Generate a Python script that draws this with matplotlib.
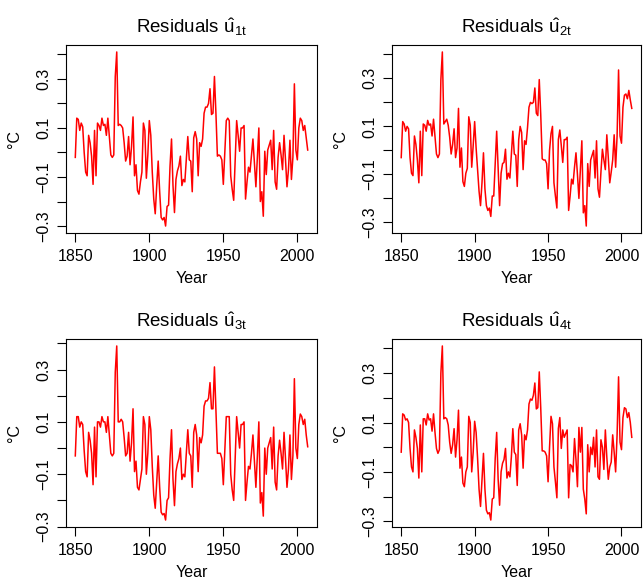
import numpy as np
import matplotlib
matplotlib.use("Agg")
import matplotlib.pyplot as plt

plt.rcParams["font.family"] = ["Liberation Sans", "DejaVu Sans"]
plt.rcParams["mathtext.fontset"] = "custom"
plt.rcParams["mathtext.rm"] = "Liberation Sans"
plt.rcParams["mathtext.it"] = "Liberation Sans"
plt.rcParams["axes.unicode_minus"] = True

years = np.arange(1850, 2008)

# residual series, one value per year 1850..2007
u1 = [-0.02, 0.14, 0.135, 0.09, 0.12, 0.105, 0.00, -0.08, -0.095, 0.07,
      0.04, -0.015, -0.13, 0.09, -0.095, 0.12, 0.11, 0.09, 0.14, 0.11,
      0.115, 0.07, 0.14, 0.065, -0.01, -0.02, -0.01, 0.31, 0.41, 0.11,
      0.115, 0.11, 0.10, 0.04, -0.035, -0.015, 0.065, -0.05, 0.025, 0.145,
      -0.095, -0.05, -0.155, -0.17, -0.12, -0.08, 0.12, 0.09, -0.105, -0.01,
      0.13, 0.07, -0.08, -0.19, -0.25, -0.135, -0.035, -0.16, -0.265, -0.275,
      -0.265, -0.30, -0.22, -0.215, -0.055, 0.055, -0.135, -0.245, -0.11, -0.075,
      -0.055, -0.015, -0.135, -0.11, -0.12, -0.03, 0.065, -0.03, -0.035, -0.16,
      0.06, 0.085, 0.055, -0.095, 0.04, 0.025, 0.055, 0.16, 0.185, 0.185,
      0.20, 0.26, 0.155, 0.16, 0.31, 0.16, -0.015, -0.01, -0.015, -0.03,
      -0.13, 0.00, 0.13, 0.14, 0.13, -0.095, -0.15, -0.195, -0.03, 0.13,
      0.07, 0.005, 0.10, 0.10, 0.11, -0.19, -0.12, -0.06, -0.08, -0.01,
      0.055, -0.04, -0.14, -0.02, 0.10, -0.20, -0.16, -0.26, 0.005, -0.09,
      0.01, 0.03, 0.05, -0.07, 0.09, -0.12, -0.15, -0.02, 0.04, -0.01,
      -0.07, 0.07, -0.03, -0.14, -0.07, 0.05, -0.11, -0.02, 0.28, 0.01,
      -0.03, 0.10, 0.14, 0.13, 0.09, 0.11, 0.06, 0.01]

u2 = [-0.03, 0.12, 0.11, 0.08, 0.10, 0.09, -0.03, -0.095, -0.105, 0.06,
      0.025, -0.04, -0.135, 0.08, -0.105, 0.11, 0.105, 0.08, 0.125, 0.105,
      0.11, 0.06, 0.13, 0.055, -0.015, -0.03, -0.015, 0.295, 0.41, 0.11,
      0.12, 0.13, 0.105, 0.055, -0.015, 0.025, 0.09, -0.03, 0.01, 0.175,
      -0.07, 0.01, -0.13, -0.15, -0.095, -0.075, 0.14, 0.105, -0.07, 0.02,
      0.12, 0.01, -0.08, -0.17, -0.23, -0.135, -0.01, -0.16, -0.23, -0.25,
      -0.24, -0.275, -0.19, -0.19, -0.05, 0.08, -0.08, -0.23, -0.095, -0.055,
      -0.05, 0.005, -0.12, -0.095, -0.115, -0.02, 0.08, -0.015, -0.02, -0.15,
      0.045, 0.10, 0.075, -0.08, 0.04, 0.025, 0.095, 0.18, 0.20, 0.195,
      0.20, 0.26, 0.155, 0.145, 0.295, 0.15, -0.035, -0.04, -0.04, -0.055,
      -0.16, 0.00, 0.07, 0.10, -0.135, -0.19, -0.24, 0.045, 0.085, 0.02,
      -0.05, 0.045, 0.045, 0.055, -0.25, -0.19, -0.12, -0.14, -0.07, -0.01,
      -0.10, -0.20, -0.08, 0.04, -0.26, -0.23, -0.315, -0.055, -0.15, -0.04,
      -0.02, 0.00, -0.115, 0.04, -0.16, -0.195, -0.09, 0.005, -0.04, -0.08,
      0.065, -0.03, -0.135, -0.09, -0.04, 0.065, -0.07, 0.06, 0.335, 0.06,
      0.03, 0.18, 0.23, 0.235, 0.215, 0.25, 0.21, 0.175]

u3 = [-0.03, 0.12, 0.12, 0.08, 0.10, 0.09, -0.01, -0.09, -0.11, 0.06,
      0.03, -0.02, -0.14, 0.08, -0.11, 0.10, 0.10, 0.08, 0.12, 0.10,
      0.10, 0.06, 0.12, 0.05, -0.02, -0.03, -0.02, 0.29, 0.39, 0.10,
      0.10, 0.11, 0.10, 0.04, -0.03, -0.02, 0.06, -0.05, 0.02, 0.15,
      -0.09, -0.05, -0.15, -0.16, -0.12, -0.08, 0.12, 0.09, -0.10, -0.02,
      0.12, 0.07, -0.07, -0.18, -0.23, -0.13, -0.03, -0.15, -0.245, -0.255,
      -0.25, -0.275, -0.20, -0.19, -0.04, 0.07, -0.12, -0.22, -0.09, -0.06,
      -0.04, 0.00, -0.12, -0.10, -0.11, -0.02, 0.07, -0.02, -0.03, -0.15,
      0.06, 0.09, 0.05, -0.09, 0.04, 0.02, 0.05, 0.16, 0.18, 0.18,
      0.19, 0.25, 0.15, 0.15, 0.31, 0.15, -0.02, -0.02, -0.02, -0.04,
      -0.14, -0.01, 0.12, 0.12, 0.12, -0.10, -0.16, -0.20, -0.04, 0.12,
      0.06, 0.00, 0.09, 0.09, 0.10, -0.20, -0.13, -0.07, -0.08, -0.02,
      0.05, -0.05, -0.15, -0.03, 0.10, -0.21, -0.17, -0.26, 0.00, -0.10,
      0.00, 0.02, 0.04, -0.08, 0.08, -0.13, -0.16, -0.03, 0.03, -0.02,
      -0.08, 0.06, -0.04, -0.15, -0.08, 0.05, -0.12, -0.03, 0.265, 0.00,
      -0.04, 0.09, 0.13, 0.12, 0.09, 0.11, 0.05, 0.005]

u4 = [-0.02, 0.135, 0.13, 0.11, 0.115, 0.10, -0.005, -0.08, -0.10, 0.07,
      0.04, -0.005, -0.125, 0.09, -0.10, 0.115, 0.115, 0.09, 0.135, 0.11,
      0.115, 0.065, 0.135, 0.06, -0.005, -0.025, -0.01, 0.30, 0.41, 0.115,
      0.12, 0.115, 0.09, 0.02, -0.025, 0.01, 0.075, -0.04, 0.03, 0.15,
      -0.085, -0.04, -0.145, -0.16, -0.10, -0.08, 0.125, 0.10, -0.10, -0.02,
      0.105, 0.06, -0.045, -0.17, -0.24, -0.13, -0.025, -0.17, -0.255, -0.27,
      -0.265, -0.295, -0.21, -0.205, -0.045, 0.06, -0.13, -0.235, -0.10, -0.065,
      -0.05, -0.005, -0.125, -0.10, -0.12, -0.04, 0.075, -0.02, -0.03, -0.155,
      0.07, 0.095, 0.05, -0.085, 0.05, 0.03, 0.07, 0.175, 0.195, 0.19,
      0.21, 0.26, 0.155, 0.16, 0.305, 0.16, -0.015, -0.015, -0.02, -0.035,
      -0.14, 0.00, 0.125, 0.095, -0.08, -0.14, -0.205, 0.075, 0.12, -0.005,
      0.07, 0.04, 0.055, 0.07, -0.205, -0.07, -0.075, -0.10, 0.035, -0.05,
      -0.16, 0.08, -0.02, 0.08, -0.17, -0.21, -0.27, 0.01, -0.10, 0.00,
      -0.03, 0.04, -0.08, 0.07, -0.12, -0.13, 0.03, 0.00, -0.09, 0.07,
      -0.04, -0.13, -0.08, -0.06, 0.05, -0.02, -0.10, 0.05, 0.285, 0.02,
      -0.01, 0.12, 0.16, 0.155, 0.12, 0.14, 0.10, 0.04]

series = [u1, u2, u3, u4]
titles = [r"Residuals $\hat{u}_{1t}$", r"Residuals $\hat{u}_{2t}$",
          r"Residuals $\hat{u}_{3t}$", r"Residuals $\hat{u}_{4t}$"]
xticks = [1850, 1900, 1950, 2000]
yticks = [-0.3, -0.2, -0.1, 0.0, 0.1, 0.2, 0.3, 0.4]
ylabels = ["\u22120.3", "", "\u22120.1", "", "0.1", "", "0.3", ""]

W, H = 643, 581
fig = plt.figure(figsize=(W / 100, H / 100), dpi=100)

# panel boxes in pixels: left, top, right, bottom
boxes = [(66, 45, 317, 233), (392, 45, 641, 233),
         (66, 339, 317, 527), (392, 339, 641, 527)]

for vals, title, (l, t, r, b) in zip(series, titles, boxes):
    ax = fig.add_axes([l / W, 1 - b / H, (r - l) / W, (b - t) / H])
    ax.plot(years, vals, color="red", lw=1.1)
    ax.margins(x=0.04, y=0.04)
    ax.set_xticks(xticks)
    ax.set_yticks(yticks)
    ax.set_yticklabels(ylabels)
    ax.tick_params(direction="out", length=6.5, width=0.8, labelsize=11.5,
                   color="black")
    ax.tick_params(axis="x", pad=5)
    ax.tick_params(axis="y", pad=4)
    plt.setp(ax.get_yticklabels(), rotation=90, va="center")
    for s in ax.spines.values():
        s.set_linewidth(0.8)
    ax.set_title(title, fontsize=13.5, pad=9)
    ax.set_xlabel("Year", fontsize=11.5)
    ax.set_ylabel("\u00b0C", fontsize=11.5)
    ax.xaxis.set_label_coords(0.5, -0.2)
    ax.yaxis.set_label_coords(-0.175, 0.5)

fig.savefig("out.png", dpi=100)
